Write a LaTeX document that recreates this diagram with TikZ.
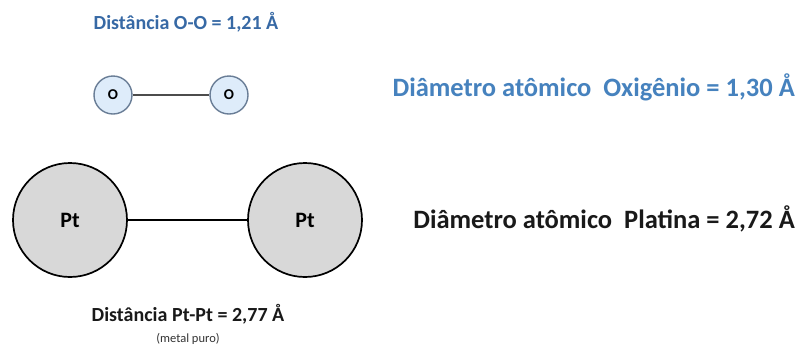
\documentclass[tikz,border=0pt]{standalone}
\usepackage{fontspec}
\setmainfont{Carlito}
\definecolor{oblue}{RGB}{70,130,190}
\definecolor{odark}{RGB}{55,105,165}
\definecolor{ofill}{RGB}{222,236,250}
\definecolor{oedge}{RGB}{105,125,150}
\definecolor{ptfill}{RGB}{216,216,216}
\begin{document}
\begin{tikzpicture}[x=1pt,y=-1pt,
  oatom/.style={circle,draw=oedge,line width=1.4pt,fill=ofill,minimum size=38pt,inner sep=0pt,font=\bfseries\fontsize{15}{15}\selectfont},
  ptatom/.style={circle,draw=black,line width=1.7pt,fill=ptfill,minimum size=114pt,inner sep=0pt,font=\bfseries\fontsize{22}{22}\selectfont},
  bond/.style={line width=1.1pt},
  lbl/.style={inner sep=0pt,font=\bfseries}]
\useasboundingbox[fill=white] (0,0) rectangle (800,349);
\node[oatom] (o1) at (113,95) {O};
\node[oatom] (o2) at (229,95) {O};
\draw[bond,draw=black!70] (o1) -- (o2);
\node[ptatom] (p1) at (70,220) {Pt};
\node[ptatom] (p2) at (305,220) {Pt};
\draw[bond] (p1) -- (p2);
\node[lbl,text=odark,font=\bfseries\fontsize{20}{20}\selectfont] (doo) at (186,22) {Distância O-O = 1,21 Å};
\node[lbl,text=oblue,font=\bfseries\fontsize{26.5}{26.5}\selectfont,anchor=east] (dox) at (795,87) {Diâmetro atômico\ \ Oxigênio = 1,30 Å};
\node[lbl,text=black!90,font=\bfseries\fontsize{26.5}{26.5}\selectfont,anchor=east] (dpt) at (795,219) {Diâmetro atômico\ \ Platina = 2,72 Å};
\node[lbl,text=black!90,font=\bfseries\fontsize{20}{20}\selectfont] (dpp) at (188,314) {Distância Pt-Pt = 2,77 Å};
\node[lbl,text=black!80,font=\fontsize{12.5}{12.5}\selectfont] (mp) at (188,339) {(metal puro)};
\end{tikzpicture}
\end{document}
